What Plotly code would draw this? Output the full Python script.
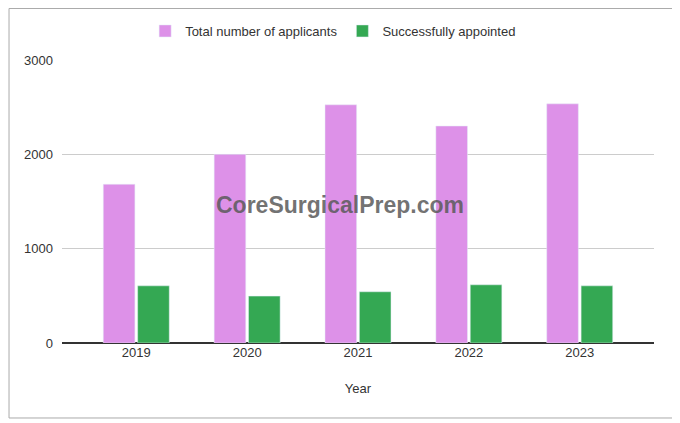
import plotly.graph_objects as go

years = ["2019", "2020", "2021", "2022", "2023"]
applicants = [1683, 2000, 2525, 2300, 2535]
appointed = [606, 497, 543, 617, 606]

fig = go.Figure()
fig.add_trace(go.Bar(x=years, y=applicants, name="Total number of applicants",
                     marker_color="#dd91e8", hoverinfo="none"))
fig.add_trace(go.Bar(x=years, y=appointed, name="Successfully appointed",
                     marker_color="#34a853", hoverinfo="none"))

# page has an 8px body margin, so the figure is a bit smaller than the window
fig.update_layout(
    width=672, height=415,
    paper_bgcolor="white", plot_bgcolor="white",
    font=dict(family="Liberation Sans, Arial", size=13, color="#333"),
    barmode="group", bargap=0.38, bargroupgap=0.08,
    margin=dict(l=54, r=26, t=52, b=80, autoexpand=False),
    showlegend=True,
    legend=dict(orientation="h", x=0.458, xanchor="center", y=1.1025, yanchor="middle",
                bgcolor="rgba(0,0,0,0)", font=dict(size=13, color="#333")),
    xaxis=dict(range=[-0.67, 4.67], showgrid=False, ticks="", showline=False,
               title=dict(text="Year", font=dict(size=13), standoff=24),
               tickfont=dict(size=13)),
    yaxis=dict(range=[0, 3000], tickvals=[0, 1000, 2000, 3000], showgrid=True,
               gridcolor="#cccccc", zeroline=True, zerolinecolor="#333333", zerolinewidth=1.5,
               showline=False, ticks="", ticklabelstandoff=8, tickfont=dict(size=13)),
    shapes=[dict(type="rect", xref="paper", yref="paper", x0=-0.0895, x1=1.0372, y0=-0.265, y1=1.182,
                 line=dict(color="#aaaaaa", width=1))],
    annotations=[dict(text="<b>CoreSurgicalPrep.com</b>", xref="paper", yref="paper",
                      x=0.47, y=0.488, showarrow=False,
                      font=dict(size=23, color="rgba(90,90,90,0.85)", family="Liberation Sans, Arial"))],
)

fig.write_html("out.html")
